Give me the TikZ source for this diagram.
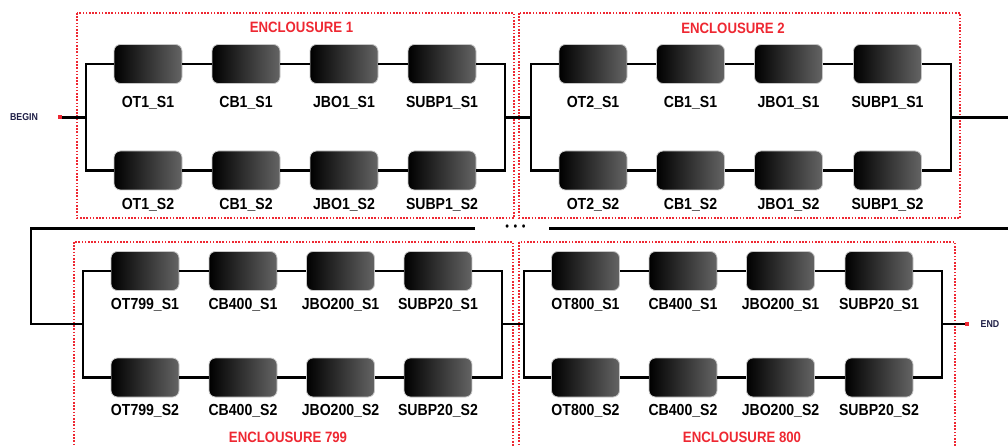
\documentclass[tikz,border=0pt]{standalone}
\usepackage{fontspec}
\setmainfont{Liberation Sans}[FakeStretch=0.88]
\definecolor{encred}{RGB}{238,40,50}
\definecolor{boxgray}{RGB}{100,100,100}
\definecolor{termtext}{RGB}{30,30,70}
\tikzset{
  blk/.style={rounded corners=6.5pt, minimum width=68pt, minimum height=39pt,
    left color=black, right color=boxgray, draw=black!22, line width=0.8pt, inner sep=0pt},
  lbl/.style={font=\bfseries\fontsize{16}{16}\selectfont, inner sep=0pt},
  ttl/.style={font=\bfseries\fontsize{15}{16}\selectfont, text=encred, inner sep=0pt},
  enclbox/.style={draw=encred, line width=1.6pt, dash pattern=on 1.6pt off 1.6pt},
  wire/.style={line width=2.6pt},
  termdot/.style={fill=encred, minimum size=4pt, inner sep=0pt},
  tlbl/.style={font=\bfseries\fontsize{10}{10}\selectfont, text=termtext, inner sep=0pt},
  dotstext/.style={font=\fontsize{12}{12}\selectfont, inner sep=0pt}
}
\begin{document}
\begin{tikzpicture}[x=1pt,y=-1pt]
\useasboundingbox (0,0) rectangle (1008,446);
\clip (0,0) rectangle (1008,446);

% ---------- enclosure frames ----------
\draw[enclbox] (77,13) rectangle (514,218);
\draw[enclbox] (519,13) rectangle (960,218);
\draw[enclbox] (74,242) rectangle (513,470);
\draw[enclbox] (519,242) rectangle (955,470);

\node[ttl] (t1) at (301.5,27) {ENCLOUSURE 1};
\node[ttl] (t2) at (733,28) {ENCLOUSURE 2};
\node[ttl] (t799) at (288,437) {ENCLOUSURE 799};
\node[ttl] (t800) at (742,437) {ENCLOUSURE 800};

% ---------- enclosure 1 ----------
\foreach \i/\x/\s in {1/148/OT1,2/246/CB1,3/344/JBO1,4/442/SUBP1}{
  \node[blk] (a\i t) at (\x,64) {};
  \node[blk] (a\i b) at (\x,170.5) {};
  \node[lbl] (a\i tl) at (\x,103) {\s\_S1};
  \node[lbl] (a\i bl) at (\x,205) {\s\_S2};
}
% ---------- enclosure 2 ----------
\foreach \i/\x/\s in {1/593/OT2,2/690.5/CB1,3/788.5/JBO1,4/887.5/SUBP1}{
  \node[blk] (b\i t) at (\x,64) {};
  \node[blk] (b\i b) at (\x,170.5) {};
  \node[lbl] (b\i tl) at (\x,103) {\s\_S1};
  \node[lbl] (b\i bl) at (\x,205) {\s\_S2};
}
% ---------- enclosure 799 ----------
\foreach \i/\x/\s in {1/145/OT799,2/243/CB400,3/340.5/JBO200,4/438/SUBP20}{
  \node[blk] (c\i t) at (\x,271) {};
  \node[blk] (c\i b) at (\x,377.5) {};
  \node[lbl] (c\i tl) at (\x,305) {\s\_S1};
  \node[lbl] (c\i bl) at (\x,411) {\s\_S2};
}
% ---------- enclosure 800 ----------
\foreach \i/\x/\s in {1/585.5/OT800,2/683/CB400,3/780.5/JBO200,4/879/SUBP20}{
  \node[blk] (d\i t) at (\x,271) {};
  \node[blk] (d\i b) at (\x,377.5) {};
  \node[lbl] (d\i tl) at (\x,305) {\s\_S1};
  \node[lbl] (d\i bl) at (\x,411) {\s\_S2};
}

% ---------- junction coordinates ----------
\coordinate (j1l) at (86,117.5);
\coordinate (j1r) at (505,117.5);
\coordinate (j2l) at (531,117.5);
\coordinate (j2r) at (951,117.5);
\coordinate (out1) at (1010,117.5);
\coordinate (in2) at (1010,228.5);
\coordinate (dotsR) at (549,228.5);
\coordinate (dotsL) at (475,228.5);
\coordinate (ret) at (31,324);
\coordinate (j3l) at (83,324);
\coordinate (j3r) at (502,324);
\coordinate (j4l) at (524,324);
\coordinate (j4r) at (942,324);

% ---------- series wires ----------
\foreach \p in {a,b,c,d}{
  \foreach \r in {t,b}{
    \draw[wire] (\p1\r) -- (\p2\r);
    \draw[wire] (\p2\r) -- (\p3\r);
    \draw[wire] (\p3\r) -- (\p4\r);
  }
}

% ---------- parallel branches ----------
\draw[wire] (a1t.west) -| (j1l) |- (a1b.west);
\draw[wire] (a4t.east) -| (j1r) |- (a4b.east);
\draw[wire] (b1t.west) -| (j2l) |- (b1b.west);
\draw[wire] (b4t.east) -| (j2r) |- (b4b.east);
\draw[wire] (c1t.west) -| (j3l) |- (c1b.west);
\draw[wire] (c4t.east) -| (j3r) |- (c4b.east);
\draw[wire] (d1t.west) -| (j4l) |- (d1b.west);
\draw[wire] (d4t.east) -| (j4r) |- (d4b.east);

% ---------- links between enclosures ----------
\draw[wire] (j1r) -- (j2l);
\draw[wire] (j2r) -- (out1);
\draw[wire] (in2) -- (dotsR);
\node[dotstext] (dots) at (515.5,228) {\textbullet\hspace{4.6pt}\textbullet\hspace{4.6pt}\textbullet};
\draw[wire] (dotsL) -| (ret) -- (j3l);
\draw[wire] (j3r) -- (j4l);

% ---------- terminals ----------
\node[tlbl] (begin) at (24,117.5) {BEGIN};
\node[tlbl] (endt) at (990,324) {END};
\node[termdot] (bdot) at (60,117.5) {};
\node[termdot] (edot) at (967,324) {};
\draw[wire] (bdot.center) -- (j1l);
\draw[wire] (j4r) -- (edot.center);
\node[termdot] at (bdot) {};
\node[termdot] at (edot) {};
\end{tikzpicture}
\end{document}
